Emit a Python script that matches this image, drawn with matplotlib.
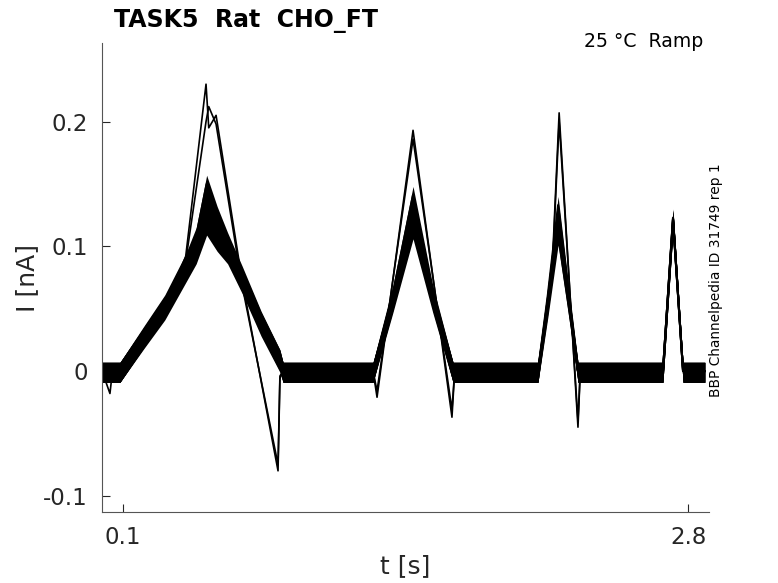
import matplotlib
matplotlib.use("Agg")
import matplotlib.pyplot as plt
import numpy as np

# ramp-protocol current traces, key points (t in s, I in nA)
bundle_t = [0.0, 0.086, 0.20, 0.30, 0.40, 0.45, 0.50, 0.55, 0.60, 0.67, 0.76, 0.85, 0.865,
            1.295, 1.39, 1.486, 1.58, 1.677,
            2.083, 2.13, 2.179, 2.23, 2.274,
            2.68, 2.728, 2.776, 2.88]
bundle_1 = [0, 0, 0.027, 0.050, 0.080, 0.095, 0.118, 0.105, 0.095, 0.071, 0.037, 0.008, 0,
            0, 0.056, 0.115, 0.056, 0,
            0, 0.052, 0.110, 0.052, 0,
            0, 0.121, 0, 0]
bundle_2 = [0, 0, 0.028, 0.052, 0.083, 0.100, 0.128, 0.112, 0.099, 0.073, 0.039, 0.009, 0,
            0, 0.058, 0.123, 0.058, 0,
            0, 0.055, 0.118, 0.055, 0,
            0, 0.122, 0, 0]
bundle_3 = [0, 0, 0.028, 0.053, 0.085, 0.104, 0.138, 0.118, 0.101, 0.075, 0.040, 0.010, 0,
            0, 0.060, 0.130, 0.060, 0,
            0, 0.058, 0.127, 0.058, 0,
            0, 0.122, 0, 0]
bundle_4 = [0, 0, 0.029, 0.054, 0.087, 0.108, 0.150, 0.125, 0.104, 0.077, 0.041, 0.010, 0,
            0, 0.062, 0.141, 0.062, 0,
            0, 0.061, 0.133, 0.061, 0,
            0, 0.123, 0, 0]

tall_t = [0.0, 0.038, 0.05, 0.086, 0.20, 0.30, 0.40, 0.497, 0.51, 0.545, 0.669, 0.841, 0.85, 0.865,
          1.295, 1.314, 1.486, 1.672, 1.685,
          2.083, 2.15, 2.184, 2.274, 2.285,
          2.68, 2.728, 2.776, 2.88]
tall_a = [0, -0.018, 0, 0, 0.027, 0.050, 0.092, 0.230, 0.195, 0.205, 0.073, -0.080, -0.006, 0,
          0, -0.021, 0.193, -0.037, 0,
          0, 0.080, 0.207, -0.045, 0,
          0, 0.122, 0, 0]
tall_b = [0, -0.008, 0, 0, 0.027, 0.050, 0.088, 0.200, 0.212, 0.198, 0.069, -0.075, -0.004, 0,
          0, -0.016, 0.186, -0.031, 0,
          0, 0.076, 0.200, -0.040, 0,
          0, 0.121, 0, 0]

# recording noise around each bundle trace (nA)
noise_hi = 0.007
noise_lo = 0.009

x_ticks = [0.1, 2.8]
y_ticks = [-0.1, 0, 0.1, 0.2]
y_tick_labels = ["-0.1", "0", "0.1", "0.2"]

ink = "#262626"

fig = plt.figure(figsize=(7.78, 5.83), dpi=100)
ax = fig.add_axes([102 / 778, 1 - 512 / 583, 607 / 778, 469 / 583])

bt = np.array(bundle_t)
for trace in (bundle_1, bundle_2, bundle_3, bundle_4):
    tr = np.array(trace)
    ax.fill_between(bt, tr - noise_lo, tr + noise_hi, color="k", lw=0)
    ax.plot(bt, tr, color="k", lw=1.5)

for trace in (tall_a, tall_b):
    ax.plot(tall_t, trace, color="k", lw=1.2)

ax.set_xlim(0.0, 2.9)
ax.set_ylim(-0.113, 0.263)
ax.set_xticks(x_ticks)
ax.set_xticklabels([f"{v:.1f}" for v in x_ticks])
ax.set_yticks(y_ticks)
ax.set_yticklabels(y_tick_labels)
ax.tick_params(direction="in", length=6, width=0.8, colors=ink, labelsize=16.5, pad=10)
for side in ("top", "right"):
    ax.spines[side].set_visible(False)
for side in ("left", "bottom"):
    ax.spines[side].set_color("#555555")
    ax.spines[side].set_linewidth(0.8)

ax.set_xlabel("t [s]", fontsize=18, color=ink, labelpad=4)
ax.set_ylabel("I [nA]", fontsize=18, color=ink, labelpad=3)

fig.text(114 / 778, 1 - 27 / 583, "TASK5  Rat  CHO_FT", fontsize=17, fontweight="bold",
         color="k", va="baseline", ha="left")
fig.text(703 / 778, 1 - 47 / 583, "25 °C  Ramp", fontsize=13.6, color="k",
         va="baseline", ha="right")
fig.text(716 / 778, 1 - 397 / 583, "BBP Channelpedia ID 31749 rep 1", fontsize=9.9,
         color="k", rotation=90, va="bottom", ha="center")

fig.savefig("out.png", dpi=100)
